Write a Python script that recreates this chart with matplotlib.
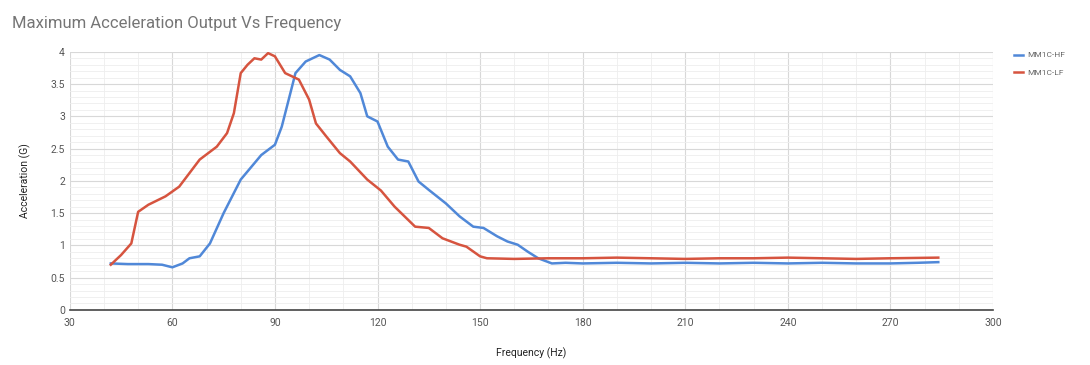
#!/usr/bin/env python3
""" maximum acceleration output vs frequency for the two MM1C variants """
import matplotlib
matplotlib.use("Agg")
import matplotlib.pyplot as plt
from matplotlib.ticker import MultipleLocator

plt.rcParams['font.family'] = ['Roboto', 'DejaVu Sans']

# values
hf_freq = [42, 47, 53, 57, 60, 63, 65, 68, 71, 75, 80, 86, 90, 92, 95, 96,
           99, 103, 106, 109, 112, 115, 117, 120, 123, 126, 129, 132, 135,
           140, 144, 148, 151, 155, 158, 161, 164, 167, 171, 175, 180, 190,
           200, 210, 220, 230, 240, 250, 260, 270, 278, 284]
hf_acc = [0.72, 0.71, 0.71, 0.70, 0.66, 0.72, 0.80, 0.83, 1.03, 1.50, 2.02,
          2.40, 2.56, 2.84, 3.46, 3.67, 3.85, 3.95, 3.88, 3.72, 3.62, 3.36,
          3.00, 2.92, 2.53, 2.33, 2.30, 1.99, 1.86, 1.65, 1.45, 1.29, 1.27,
          1.14, 1.06, 1.01, 0.90, 0.80, 0.72, 0.73, 0.72, 0.73, 0.72, 0.73,
          0.72, 0.73, 0.72, 0.73, 0.72, 0.72, 0.73, 0.74]

lf_freq = [42, 45, 48, 50, 53, 58, 62, 65, 68, 73, 76, 78, 80, 82, 84, 86,
           88, 90, 93, 97, 100, 102, 105, 109, 112, 117, 121, 125, 131, 135,
           139, 144, 146, 150, 152, 160, 170, 180, 190, 200, 210, 220, 230,
           240, 250, 260, 270, 284]
lf_acc = [0.70, 0.85, 1.03, 1.52, 1.63, 1.76, 1.91, 2.12, 2.33, 2.53, 2.74,
          3.05, 3.67, 3.80, 3.90, 3.88, 3.98, 3.93, 3.67, 3.57, 3.26, 2.89,
          2.69, 2.43, 2.30, 2.02, 1.85, 1.60, 1.29, 1.27, 1.11, 1.01, 0.98,
          0.83, 0.80, 0.79, 0.80, 0.80, 0.81, 0.80, 0.79, 0.80, 0.80, 0.81,
          0.80, 0.79, 0.80, 0.81]

x_ticks = list(range(30, 301, 30))
y_ticks = [0, 0.5, 1, 1.5, 2, 2.5, 3, 3.5, 4]

fig = plt.figure(figsize=(10.9, 3.65), dpi=100)
ax = fig.add_axes([0.064, 0.151, 0.847, 0.707])

ax.plot(hf_freq, hf_acc, color="#5088d8", lw=1.8, label="MM1C-HF", zorder=3)
ax.plot(lf_freq, lf_acc, color="#d6543f", lw=1.8, label="MM1C-LF", zorder=3)

ax.set_xlim(30, 300)
ax.set_ylim(0, 4)
ax.set_xticks(x_ticks)
ax.set_yticks(y_ticks)
ax.set_yticklabels([f"{v:g}" for v in y_ticks])
ax.xaxis.set_minor_locator(MultipleLocator(10))
ax.yaxis.set_minor_locator(MultipleLocator(0.1))
ax.grid(which="major", color="#d8d8d8", lw=0.8)
ax.grid(which="minor", color="#eeeeee", lw=0.6)
ax.set_axisbelow(True)

for side in ("top", "right", "left"):
    ax.spines[side].set_visible(False)
ax.spines["bottom"].set_color("#444444")
ax.spines["bottom"].set_linewidth(1.2)
ax.tick_params(which="both", length=0)
ax.tick_params(labelsize=7.5, labelcolor="#555555")
ax.tick_params(axis="x", pad=6)

ax.set_xlabel("Frequency (Hz)", fontsize=7.5, color="#222222", labelpad=14)
ax.set_ylabel("Acceleration (G)", fontsize=7.5, color="#222222", labelpad=14)

fig.text(0.011, 0.935, "Maximum Acceleration Output Vs Frequency",
         fontsize=12, color="#757575", va="center")

ax.legend(loc="upper left", bbox_to_anchor=(1.015, 1.03), frameon=False,
          fontsize=6, labelcolor="#666666", handlelength=1.0,
          handletextpad=0.6, labelspacing=1.3)

plt.savefig("out.png", dpi=100)
